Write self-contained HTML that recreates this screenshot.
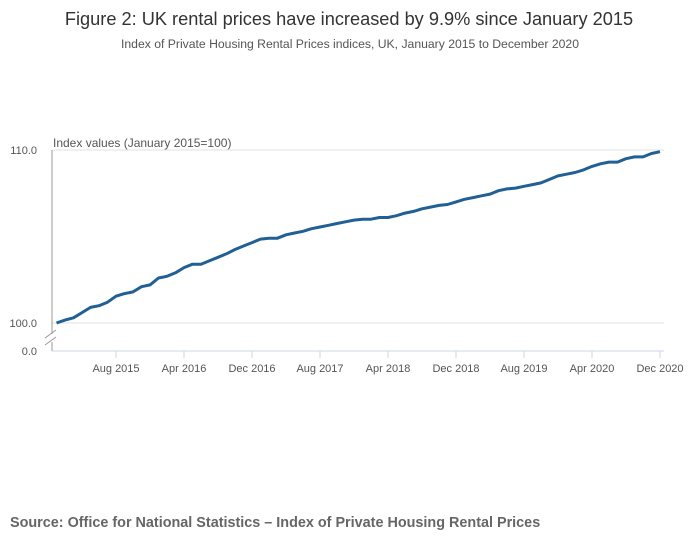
<!DOCTYPE html>
<html><head><meta charset="utf-8"><style>
body{margin:0;background:#fff;width:700px;height:549px;overflow:hidden;font-family:"Liberation Sans",sans-serif}
</style></head><body>
<svg width="700" height="549" id="c">
<text x="349" y="25" text-anchor="middle" font-size="18.2" fill="#333">Figure 2: UK rental prices have increased by 9.9% since January 2015</text>
<text x="350" y="48" text-anchor="middle" font-size="12.2" fill="#555">Index of Private Housing Rental Prices indices, UK, January 2015 to December 2020</text>
<text x="53" y="147" font-size="12" fill="#555">Index values (January 2015=100)</text>
<g id="grid"></g>
<line x1="52" y1="150" x2="52" y2="334" stroke="#999"/>
<line x1="52" y1="342" x2="52" y2="351" stroke="#999"/>
<line x1="45" y1="338" x2="56" y2="330" stroke="#999"/>
<line x1="45" y1="345" x2="56" y2="337" stroke="#999"/>
<text x="37" y="355" text-anchor="end" font-size="11" fill="#555">0.0</text>
<line x1="52" y1="351" x2="664" y2="351" stroke="#ccd6eb"/>
<g id="xt"></g>
<path id="line" fill="none" stroke="#206095" stroke-width="3" stroke-linejoin="round"/>
<text x="10" y="527" font-size="14.4" font-weight="bold" fill="#666">Source: Office for National Statistics – Index of Private Housing Rental Prices</text>
</svg>
<script>
const values=[100,100.17,100.3,100.6,100.9,101.0,101.2,101.55,101.7,101.8,102.1,102.2,102.6,102.7,102.9,103.2,103.4,103.4,103.6,103.8,104.0,104.25,104.45,104.65,104.85,104.9,104.9,105.1,105.2,105.3,105.45,105.55,105.65,105.75,105.85,105.95,106.0,106.0,106.1,106.1,106.2,106.35,106.45,106.6,106.7,106.8,106.85,107.0,107.15,107.25,107.35,107.45,107.65,107.75,107.8,107.9,108.0,108.1,108.3,108.5,108.6,108.7,108.85,109.05,109.2,109.3,109.3,109.5,109.6,109.6,109.8,109.9];
const xTickLabels=["Aug 2015","Apr 2016","Dec 2016","Aug 2017","Apr 2018","Dec 2018","Aug 2019","Apr 2020","Dec 2020"];
const xTickMonths=[7,15,23,31,39,47,55,63,71];
const yTicks=[100,110];
const NS="http://www.w3.org/2000/svg";
function xs(i){return 56.5+i*(660-56.5)/71;}
function ys(v){return 323-(v-100)*17.3;}
const g=document.getElementById('grid');
yTicks.forEach(t=>{
 const l=document.createElementNS(NS,'line');
 l.setAttribute('x1',52);l.setAttribute('x2',664);l.setAttribute('y1',ys(t));l.setAttribute('y2',ys(t));
 l.setAttribute('stroke','#e0e0e0');
 
 
 g.appendChild(l);
 const tx=document.createElementNS(NS,'text');
 tx.setAttribute('x',37);tx.setAttribute('y',ys(t)+4);tx.setAttribute('text-anchor','end');
 tx.setAttribute('font-size','11');tx.setAttribute('fill','#555');tx.textContent=t.toFixed(1);
 
 
 g.appendChild(tx);
});
const xt=document.getElementById('xt');
xTickLabels.forEach((lab,k)=>{
 const x=xs(xTickMonths[k]);
 const l=document.createElementNS(NS,'line');
 l.setAttribute('x1',x);l.setAttribute('x2',x);l.setAttribute('y1',351);l.setAttribute('y2',358);
 l.setAttribute('stroke','#ccd6eb');
 
 
 xt.appendChild(l);
 const tx=document.createElementNS(NS,'text');
 tx.setAttribute('x',x);tx.setAttribute('y',372);tx.setAttribute('text-anchor','middle');
 tx.setAttribute('font-size','11');tx.setAttribute('fill','#555');tx.textContent=lab;
 
 
 xt.appendChild(tx);
});
document.getElementById('line').setAttribute('d',values.map((v,i)=>(i?'L':'M')+xs(i).toFixed(1)+' '+ys(v).toFixed(1)).join(' '));
</script>
</body></html>
